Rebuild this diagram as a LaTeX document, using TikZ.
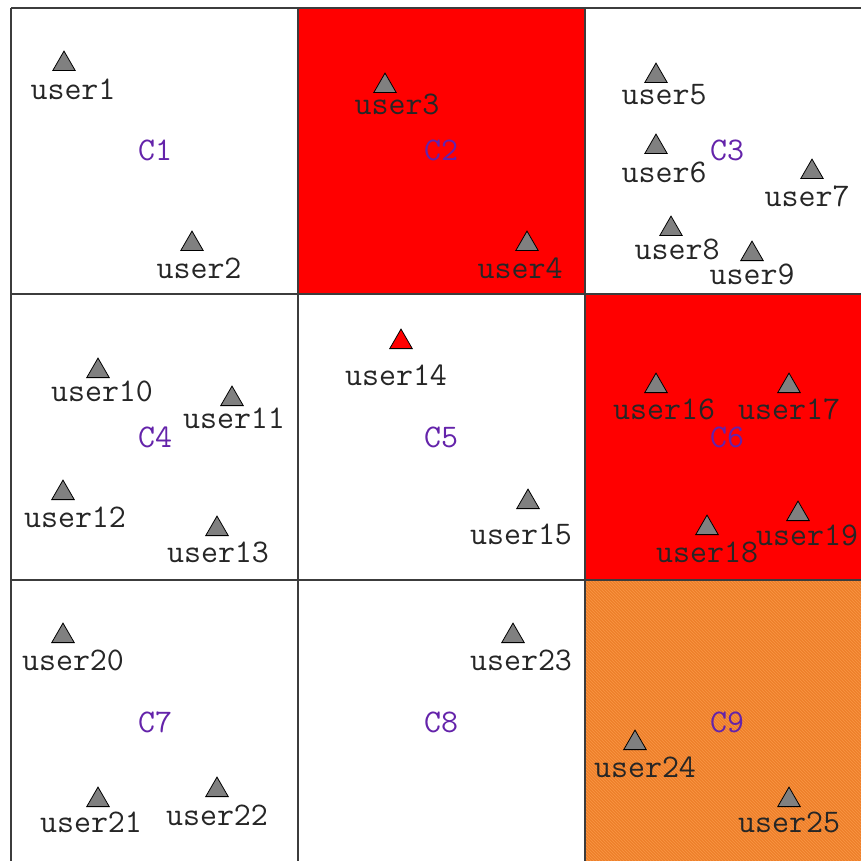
\documentclass[tikz,border=0pt]{standalone}
\usetikzlibrary{shapes.geometric,patterns}
\definecolor{gridc}{RGB}{60,60,60}
\definecolor{cpurple}{RGB}{100,35,170}
\definecolor{orangec}{RGB}{238,128,42}
\definecolor{orangeh}{RGB}{250,150,70}
\definecolor{triGray}{RGB}{128,128,128}
\tikzset{
  tri/.style={draw=black, line width=0.8pt, fill=triGray, regular polygon, regular polygon sides=3, minimum size=26pt, inner sep=0pt, anchor=south},
  trired/.style={tri, fill=red},
  ulab/.style={font=\ttfamily\fontsize{33}{35}\selectfont, text=black!85, inner sep=0pt, anchor=center},
  clab/.style={font=\ttfamily\fontsize{33}{35}\selectfont, text=cpurple, inner sep=0pt, anchor=center},
  cell/.style={draw=gridc, line width=1.2pt}
}
\begin{document}
\begin{tikzpicture}[x=1pt,y=-1pt]
\useasboundingbox (0,0) rectangle (861,861);
\fill[white] (0,0) rectangle (861,861);
% coloured cells
\fill[red] (298,8) rectangle (585,294);
\fill[red] (585,294) rectangle (872,580);
\fill[orangec] (585,580) rectangle (872,866);
\fill[pattern=north west lines, pattern color=orangeh] (585,580) rectangle (872,866);
% grid
\foreach \x in {11,298,585,872} \draw[cell] (\x,8) -- (\x,866);
\foreach \y in {8,294,580,866} \draw[cell] (11,\y) -- (872,\y);
% cluster labels
\node[clab] (c1) at (155,150) {C1};
\node[clab] (c2) at (441,150) {C2};
\node[clab] (c3) at (727,150) {C3};
\node[clab] (c4) at (155,437) {C4};
\node[clab] (c5) at (441,437) {C5};
\node[clab] (c6) at (727,437) {C6};
\node[clab] (c7) at (155,722) {C7};
\node[clab] (c8) at (441,722) {C8};
\node[clab] (c9) at (727,722) {C9};
% users: triangle base position, label centre
\foreach \n/\tx/\ty/\lx/\ly in {
 1/64/71/73/89, 2/192/251/199/268, 3/385/93/397/104, 4/527/251/520/268,
 5/656/83/664/95, 6/656/154/664/172, 7/812/179/807/196, 8/671/236/677/249,
 9/752/261/752/274, 10/98/378/102/391, 11/232/406/234/418, 12/63/500/75/517,
 13/217/536/218/552, 15/528/509/521/534, 16/656/393/664/409,
 17/789/393/789/409, 18/707/535/707/552, 19/798/521/807/535, 20/63/643/73/660,
 21/98/807/91/822, 22/217/797/217/815, 23/513/643/521/660, 24/635/750/645/767,
 25/789/807/789/822}{
  \node[tri] (t\n) at (\tx,\ty) {};
  \node[ulab] (l\n) at (\lx,\ly) {user\n};
}
\node[trired] (t14) at (401,349) {};
\node[ulab] (l14) at (396,375) {user14};
\end{tikzpicture}
\end{document}
